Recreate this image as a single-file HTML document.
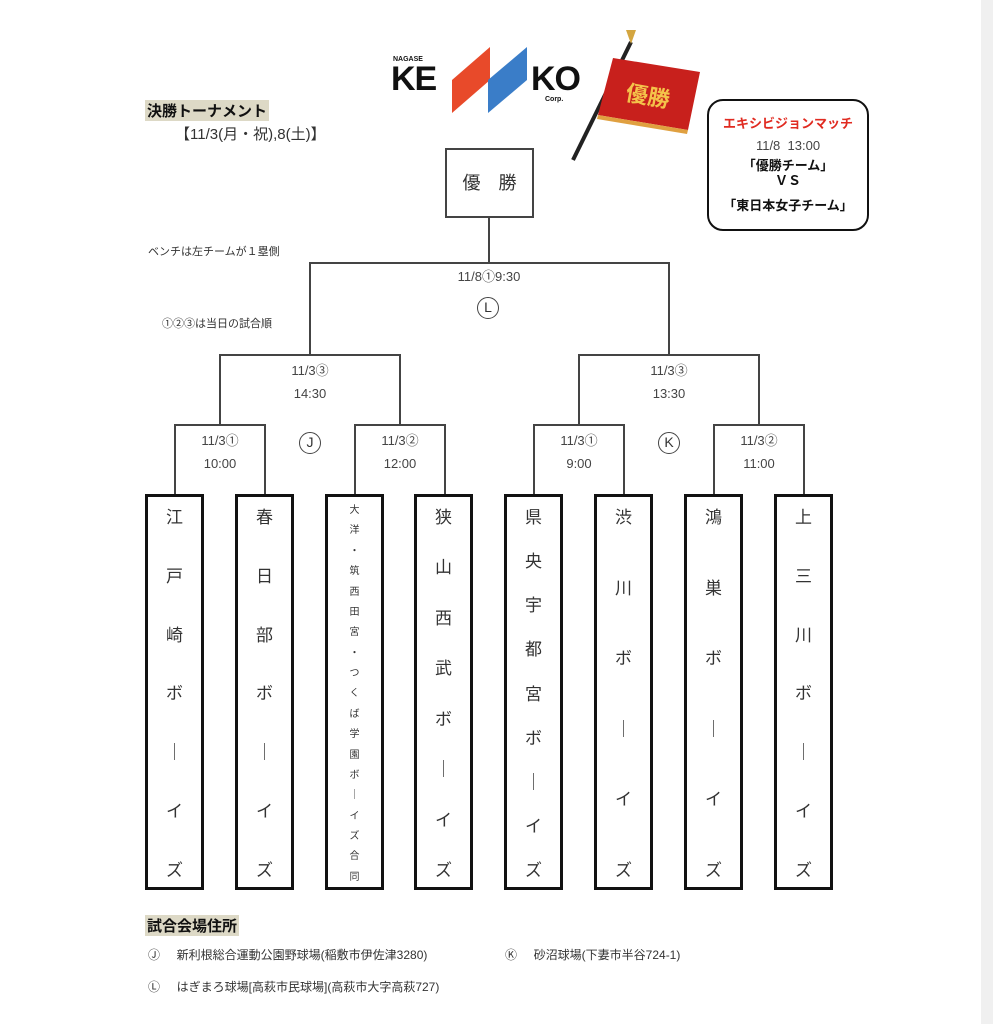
<!DOCTYPE html>
<html><head><meta charset="utf-8">
<style>
*{margin:0;padding:0;box-sizing:border-box}
body{width:993px;height:1024px;background:#fff;position:relative;overflow:hidden;font-family:"Liberation Sans","Noto Sans CJK JP",sans-serif;color:#333}
.a{position:absolute}
.h{position:absolute;height:2px;background:#444}
.v{position:absolute;width:2px;background:#444}
.t{position:absolute;font-size:13px;text-align:center;width:120px;color:#444}
.box{position:absolute;top:494px;height:396px;width:59px;border:3px solid #111;display:flex;flex-direction:column;justify-content:space-between;align-items:center;padding:6px 0 6px;font-size:17px;color:#333}
.box.s{font-size:10px;padding:4px 0}
.c{position:absolute;width:22px;height:22px;border:1.5px solid #444;border-radius:50%;text-align:center;line-height:19px;font-size:14px;color:#333}
</style></head><body>
<div class="a" style="left:981px;top:0;width:12px;height:1024px;background:#f0f0f0"></div>

<!-- logo -->
<svg class="a" style="left:0;top:0" width="993" height="200">
<polygon points="452,80 490,47 490,80 452,113" fill="#e84a2a"/>
<polygon points="488,80 527,47 527,80 488,113" fill="#3a7dc8"/>
<line x1="631" y1="42" x2="573" y2="160" stroke="#222" stroke-width="4"/>
<polygon points="626,30 636,30 631,44" fill="#d4a640"/>
<polygon points="613,58 700,72 688,130 598,115" fill="#c8201c"/>
<polygon points="598,115 688,130 687,134 597,119" fill="#e0a040"/>
<text x="648" y="104" font-size="22" font-weight="bold" fill="#f4c34a" text-anchor="middle" transform="rotate(10 648 96)" font-family="Noto Sans CJK JP, sans-serif">優勝</text>
</svg>
<div class="a" style="left:393px;top:56px;font-size:7px;font-weight:bold;color:#111">NAGASE</div>
<div class="a" style="left:391px;top:60px;font-size:34px;font-weight:900;color:#111;letter-spacing:-1px">KE</div>
<div class="a" style="left:531px;top:60px;font-size:34px;font-weight:900;color:#111;letter-spacing:-1px">KO</div>
<div class="a" style="left:545px;top:96px;font-size:7px;font-weight:bold;color:#111">Corp.</div>

<!-- exhibition box -->
<div class="a" style="left:707px;top:99px;width:162px;height:132px;border:2.5px solid #111;border-radius:16px;text-align:center">
<div style="color:#e02a20;font-weight:bold;font-size:13px;margin-top:12px">エキシビジョンマッチ</div>
<div style="font-size:13px;margin-top:6px;color:#444">11/8&nbsp;&nbsp;13:00</div>
<div style="font-size:13px;font-weight:bold;color:#111;margin-top:5px;line-height:15px">「優勝チーム」<br>ＶＳ</div>
<div style="font-size:13px;font-weight:bold;color:#111;margin-top:7px">「東日本女子チーム」</div>
</div>

<div class="a" style="left:145px;top:100px;background:#ddd9c6;font-weight:bold;font-size:15px;color:#111;padding:0 2px">決勝トーナメント</div>
<div class="a" style="left:175px;top:123px;font-size:15px;color:#333">【11/3(月・祝),8(土)】</div>
<div class="a" style="left:148px;top:243px;font-size:11px;color:#333">ベンチは左チームが１塁側</div>
<div class="a" style="left:162px;top:315px;font-size:11px;color:#333">①②③は当日の試合順</div>

<div class="a" style="left:445px;top:148px;width:89px;height:70px;border:2px solid #444;text-align:center;line-height:66px;font-size:18px;color:#333">優　勝</div>

<!-- lines -->
<div class="v" style="left:488px;top:218px;height:46px"></div>
<div class="h" style="left:309px;top:262px;width:361px"></div>
<div class="v" style="left:309px;top:262px;height:94px"></div>
<div class="v" style="left:668px;top:262px;height:94px"></div>
<div class="h" style="left:219px;top:354px;width:182px"></div>
<div class="h" style="left:578px;top:354px;width:182px"></div>
<div class="v" style="left:219px;top:354px;height:72px"></div>
<div class="v" style="left:399px;top:354px;height:72px"></div>
<div class="v" style="left:578px;top:354px;height:72px"></div>
<div class="v" style="left:758px;top:354px;height:72px"></div>
<div class="h" style="left:174px;top:424px;width:92px"></div>
<div class="h" style="left:354px;top:424px;width:92px"></div>
<div class="h" style="left:533px;top:424px;width:92px"></div>
<div class="h" style="left:713px;top:424px;width:92px"></div>
<div class="v" style="left:174px;top:424px;height:70px"></div>
<div class="v" style="left:264px;top:424px;height:70px"></div>
<div class="v" style="left:354px;top:424px;height:70px"></div>
<div class="v" style="left:444px;top:424px;height:70px"></div>
<div class="v" style="left:533px;top:424px;height:70px"></div>
<div class="v" style="left:623px;top:424px;height:70px"></div>
<div class="v" style="left:713px;top:424px;height:70px"></div>
<div class="v" style="left:803px;top:424px;height:70px"></div>

<div class="t" style="left:429px;top:266px">11/8①9:30</div>
<div class="c" style="left:477px;top:297px">L</div>
<div class="t" style="left:250px;top:359px;line-height:23px">11/3③<br>14:30</div>
<div class="t" style="left:609px;top:359px;line-height:23px">11/3③<br>13:30</div>
<div class="t" style="left:160px;top:429px;line-height:23px">11/3①<br>10:00</div>
<div class="t" style="left:340px;top:429px;line-height:23px">11/3②<br>12:00</div>
<div class="t" style="left:519px;top:429px;line-height:23px">11/3①<br>9:00</div>
<div class="t" style="left:699px;top:429px;line-height:23px">11/3②<br>11:00</div>
<div class="c" style="left:299px;top:432px">J</div>
<div class="c" style="left:658px;top:432px">K</div>

<div class="box" style="left:145px"><span>江</span><span>戸</span><span>崎</span><span>ボ</span><span>｜</span><span>イ</span><span>ズ</span></div>
<div class="box" style="left:235px"><span>春</span><span>日</span><span>部</span><span>ボ</span><span>｜</span><span>イ</span><span>ズ</span></div>
<div class="box s" style="left:325px"><span>大</span><span>洋</span><span>・</span><span>筑</span><span>西</span><span>田</span><span>宮</span><span>・</span><span>つ</span><span>く</span><span>ば</span><span>学</span><span>園</span><span>ボ</span><span>｜</span><span>イ</span><span>ズ</span><span>合</span><span>同</span></div>
<div class="box" style="left:414px"><span>狭</span><span>山</span><span>西</span><span>武</span><span>ボ</span><span>｜</span><span>イ</span><span>ズ</span></div>
<div class="box" style="left:504px"><span>県</span><span>央</span><span>宇</span><span>都</span><span>宮</span><span>ボ</span><span>｜</span><span>イ</span><span>ズ</span></div>
<div class="box" style="left:594px"><span>渋</span><span>川</span><span>ボ</span><span>｜</span><span>イ</span><span>ズ</span></div>
<div class="box" style="left:684px"><span>鴻</span><span>巣</span><span>ボ</span><span>｜</span><span>イ</span><span>ズ</span></div>
<div class="box" style="left:774px"><span>上</span><span>三</span><span>川</span><span>ボ</span><span>｜</span><span>イ</span><span>ズ</span></div>

<div class="a" style="left:145px;top:915px;background:#ddd9c6;font-weight:bold;font-size:15px;color:#111;padding:0 2px">試合会場住所</div>
<div class="a" style="left:148px;top:946px;font-size:12px;color:#333">Ⓙ&nbsp;&nbsp;&nbsp;&nbsp;&nbsp;新利根総合運動公園野球場(稲敷市伊佐津3280)</div>
<div class="a" style="left:505px;top:946px;font-size:12px;color:#333">Ⓚ&nbsp;&nbsp;&nbsp;&nbsp;&nbsp;砂沼球場(下妻市半谷724-1)</div>
<div class="a" style="left:148px;top:978px;font-size:12px;color:#333">Ⓛ&nbsp;&nbsp;&nbsp;&nbsp;&nbsp;はぎまろ球場[高萩市民球場](高萩市大字高萩727)</div>
</body></html>
